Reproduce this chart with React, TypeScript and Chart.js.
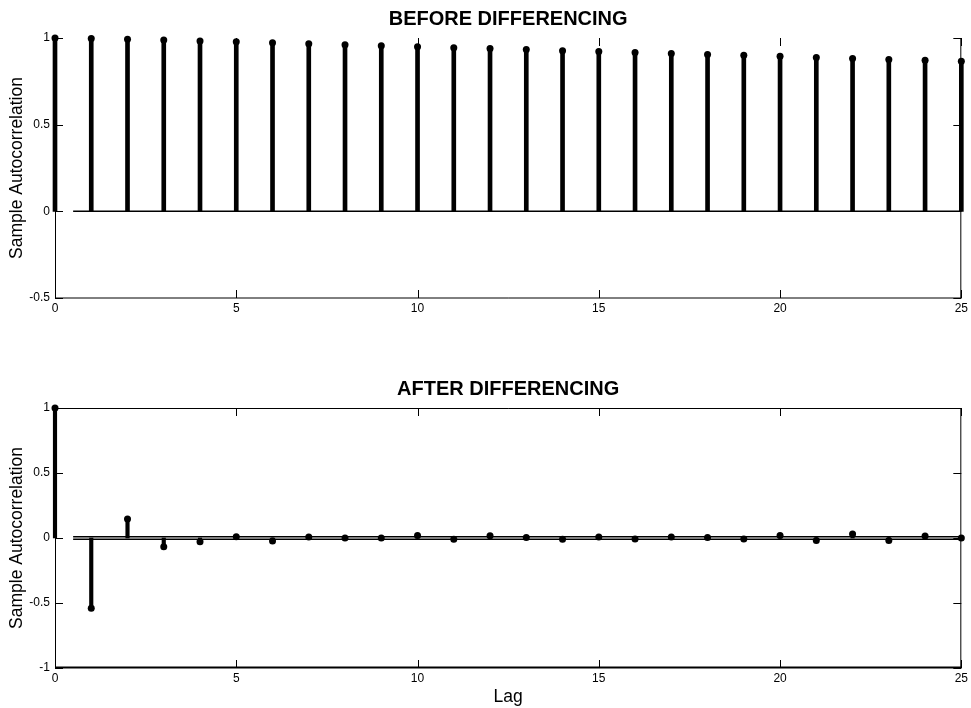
import React, { useEffect, useRef } from "react";
import { Chart, registerables } from "chart.js";

Chart.register(...registerables);

// ---- data ----
const lags = [0, 1, 2, 3, 4, 5, 6, 7, 8, 9, 10, 11, 12, 13, 14, 15, 16, 17, 18, 19, 20, 21, 22, 23, 24, 25];
const acfBefore = [
  1.0, 0.997, 0.993, 0.988, 0.983, 0.978, 0.972, 0.967, 0.961, 0.955, 0.95, 0.944, 0.939,
  0.933, 0.927, 0.922, 0.916, 0.911, 0.905, 0.9, 0.895, 0.888, 0.882, 0.876, 0.872, 0.866,
];
const acfAfter = [
  1.0, -0.54, 0.146, -0.067, -0.028, 0.01, -0.023, 0.008, 0.0, 0.0, 0.02, -0.01, 0.018,
  0.003, -0.01, 0.008, -0.008, 0.008, 0.003, -0.008, 0.02, -0.02, 0.03, -0.02, 0.015, 0.0,
];
const boundsBefore = [0];
const boundsAfter = [0.0105, -0.0105];
const boundStartLag = 0.5;
const titleBefore = "BEFORE DIFFERENCING";
const titleAfter = "AFTER DIFFERENCING";
const yLabel = "Sample Autocorrelation";
const xLabel = "Lag";

const FONT = "'Liberation Sans', Arial, Helvetica, sans-serif";
Chart.defaults.font.family = FONT;
Chart.defaults.color = "#000";

const framePlugin = {
  id: "frame",
  beforeDatasetsDraw(chart: any, _args: any, opts: any) {
    const { ctx, chartArea } = chart;
    const { left, right, top, bottom } = chartArea;
    const xs = chart.scales.x;
    const ys = chart.scales.y;
    ctx.save();
    ctx.strokeStyle = "#000";
    ctx.lineWidth = 1;
    ctx.beginPath();
    if (opts.drawTop) {
      ctx.moveTo(left, top + 0.5);
      ctx.lineTo(right, top + 0.5);
    }
    ctx.moveTo(left + 0.5, top);
    ctx.lineTo(left + 0.5, bottom);
    ctx.moveTo(right - 0.5, top);
    ctx.lineTo(right - 0.5, bottom);
    const tl = 8;
    xs.ticks.forEach((t: any) => {
      const px = Math.round(xs.getPixelForValue(t.value)) + 0.5;
      ctx.moveTo(px, bottom);
      ctx.lineTo(px, bottom - tl);
      ctx.moveTo(px, top);
      ctx.lineTo(px, top + tl);
    });
    ys.ticks.forEach((t: any) => {
      const py = Math.round(ys.getPixelForValue(t.value)) + 0.5;
      ctx.moveTo(left, py);
      ctx.lineTo(left + tl, py);
      ctx.moveTo(right, py);
      ctx.lineTo(right - tl, py);
    });
    ctx.stroke();
    ctx.lineWidth = opts.bottomWidth || 1;
    ctx.beginPath();
    const by = bottom - (opts.bottomWidth || 1) / 2 + 0.5;
    ctx.moveTo(left, by);
    ctx.lineTo(right, by);
    ctx.stroke();
    ctx.restore();
  },
};

function makeConfig(p: {
  values: number[];
  bounds: number[];
  yMin: number;
  yMax: number;
  title: string;
  titlePad: { top: number; bottom: number };
  xTitle: boolean;
  xHeight: number;
  stemWidth: number;
  drawTop: boolean;
  bottomWidth: number;
}) {
  const boundSets = p.bounds.map((b) => ({
    type: "line",
    data: [
      { x: boundStartLag, y: b },
      { x: lags[lags.length - 1], y: b },
    ],
    borderColor: "#000",
    borderWidth: 1.5,
    pointRadius: 0,
    fill: false,
    clip: false,
    order: 3,
  }));
  return {
    type: "line",
    data: {
      datasets: [
        ...boundSets,
        {
          type: "bar",
          data: lags.map((l, i) => ({ x: l, y: p.values[i] })),
          backgroundColor: "#000",
          borderWidth: 0,
          barThickness: p.stemWidth,
          clip: false,
          order: 2,
        },
        {
          type: "line",
          data: lags.map((l, i) => ({ x: l, y: p.values[i] })),
          showLine: false,
          pointRadius: 3.5,
          pointBackgroundColor: "#000",
          pointBorderColor: "#000",
          pointBorderWidth: 0,
          clip: false,
          order: 1,
        },
      ],
    },
    options: {
      responsive: false,
      animation: false,
      devicePixelRatio: 1,
      events: [],
      layout: { padding: { left: 0, right: 8, top: 0, bottom: 0 } },
      plugins: {
        legend: { display: false },
        tooltip: { enabled: false },
        title: {
          display: true,
          text: p.title,
          fullSize: false,
          color: "#000",
          font: { family: FONT, size: 20, weight: "bold" },
          padding: p.titlePad,
        },
        frame: { drawTop: p.drawTop, bottomWidth: p.bottomWidth },
      },
      scales: {
        x: {
          type: "linear",
          min: 0,
          max: 25,
          offset: false,
          grid: { display: false, offset: false, drawTicks: false },
          border: { display: false },
          ticks: {
            stepSize: 5,
            padding: 3,
            color: "#000",
            font: { family: FONT, size: 12 },
            maxRotation: 0,
            callback: (v: any) => String(v),
          },
          title: {
            display: p.xTitle,
            text: xLabel,
            color: "#000",
            font: { family: FONT, size: 17.5 },
            padding: { top: 0, bottom: 0 },
          },
          afterFit: (scale: any) => {
            scale.height = p.xHeight;
          },
        },
        y: {
          type: "linear",
          min: p.yMin,
          max: p.yMax,
          grid: { display: false, drawTicks: false },
          border: { display: false },
          ticks: {
            stepSize: 0.5,
            padding: 5,
            color: "#000",
            font: { family: FONT, size: 12 },
            callback: (v: any) => String(Math.round(v * 10) / 10),
          },
          title: {
            display: true,
            text: yLabel,
            color: "#000",
            font: { family: FONT, size: 17.5 },
            padding: { top: 6.5, bottom: 0 },
          },
          afterFit: (scale: any) => {
            scale.width = 55;
          },
        },
      },
    },
    plugins: [framePlugin],
  };
}

function AcfChart(props: { cfg: any; top: number; height: number }) {
  const ref = useRef<HTMLCanvasElement | null>(null);
  useEffect(() => {
    if (!ref.current) return;
    const chart = new Chart(ref.current, props.cfg);
    return () => chart.destroy();
  }, []);
  return (
    <canvas
      ref={ref}
      width={971}
      height={props.height}
      style={{ position: "absolute", left: 0, top: props.top, width: 971, height: props.height }}
    />
  );
}

export default function App() {
  const topCfg = makeConfig({
    values: acfBefore,
    bounds: boundsBefore,
    yMin: -0.5,
    yMax: 1,
    title: titleBefore,
    titlePad: { top: 7.5, bottom: 6.5 },
    xTitle: false,
    xHeight: 37,
    stemWidth: 4,
    drawTop: false,
    bottomWidth: 1,
  });
  const botCfg = makeConfig({
    values: acfAfter,
    bounds: boundsAfter,
    yMin: -1,
    yMax: 1,
    title: titleAfter,
    titlePad: { top: 42.7, bottom: 6.3 },
    xTitle: true,
    xHeight: 40,
    stemWidth: 3.5,
    drawTop: true,
    bottomWidth: 2,
  });
  return (
    <div style={{ position: "absolute", left: 0, top: 0, width: 971, height: 708, background: "#fff" }}>
      <AcfChart cfg={topCfg} top={0} height={335} />
      <AcfChart cfg={botCfg} top={335} height={373} />
    </div>
  );
}
